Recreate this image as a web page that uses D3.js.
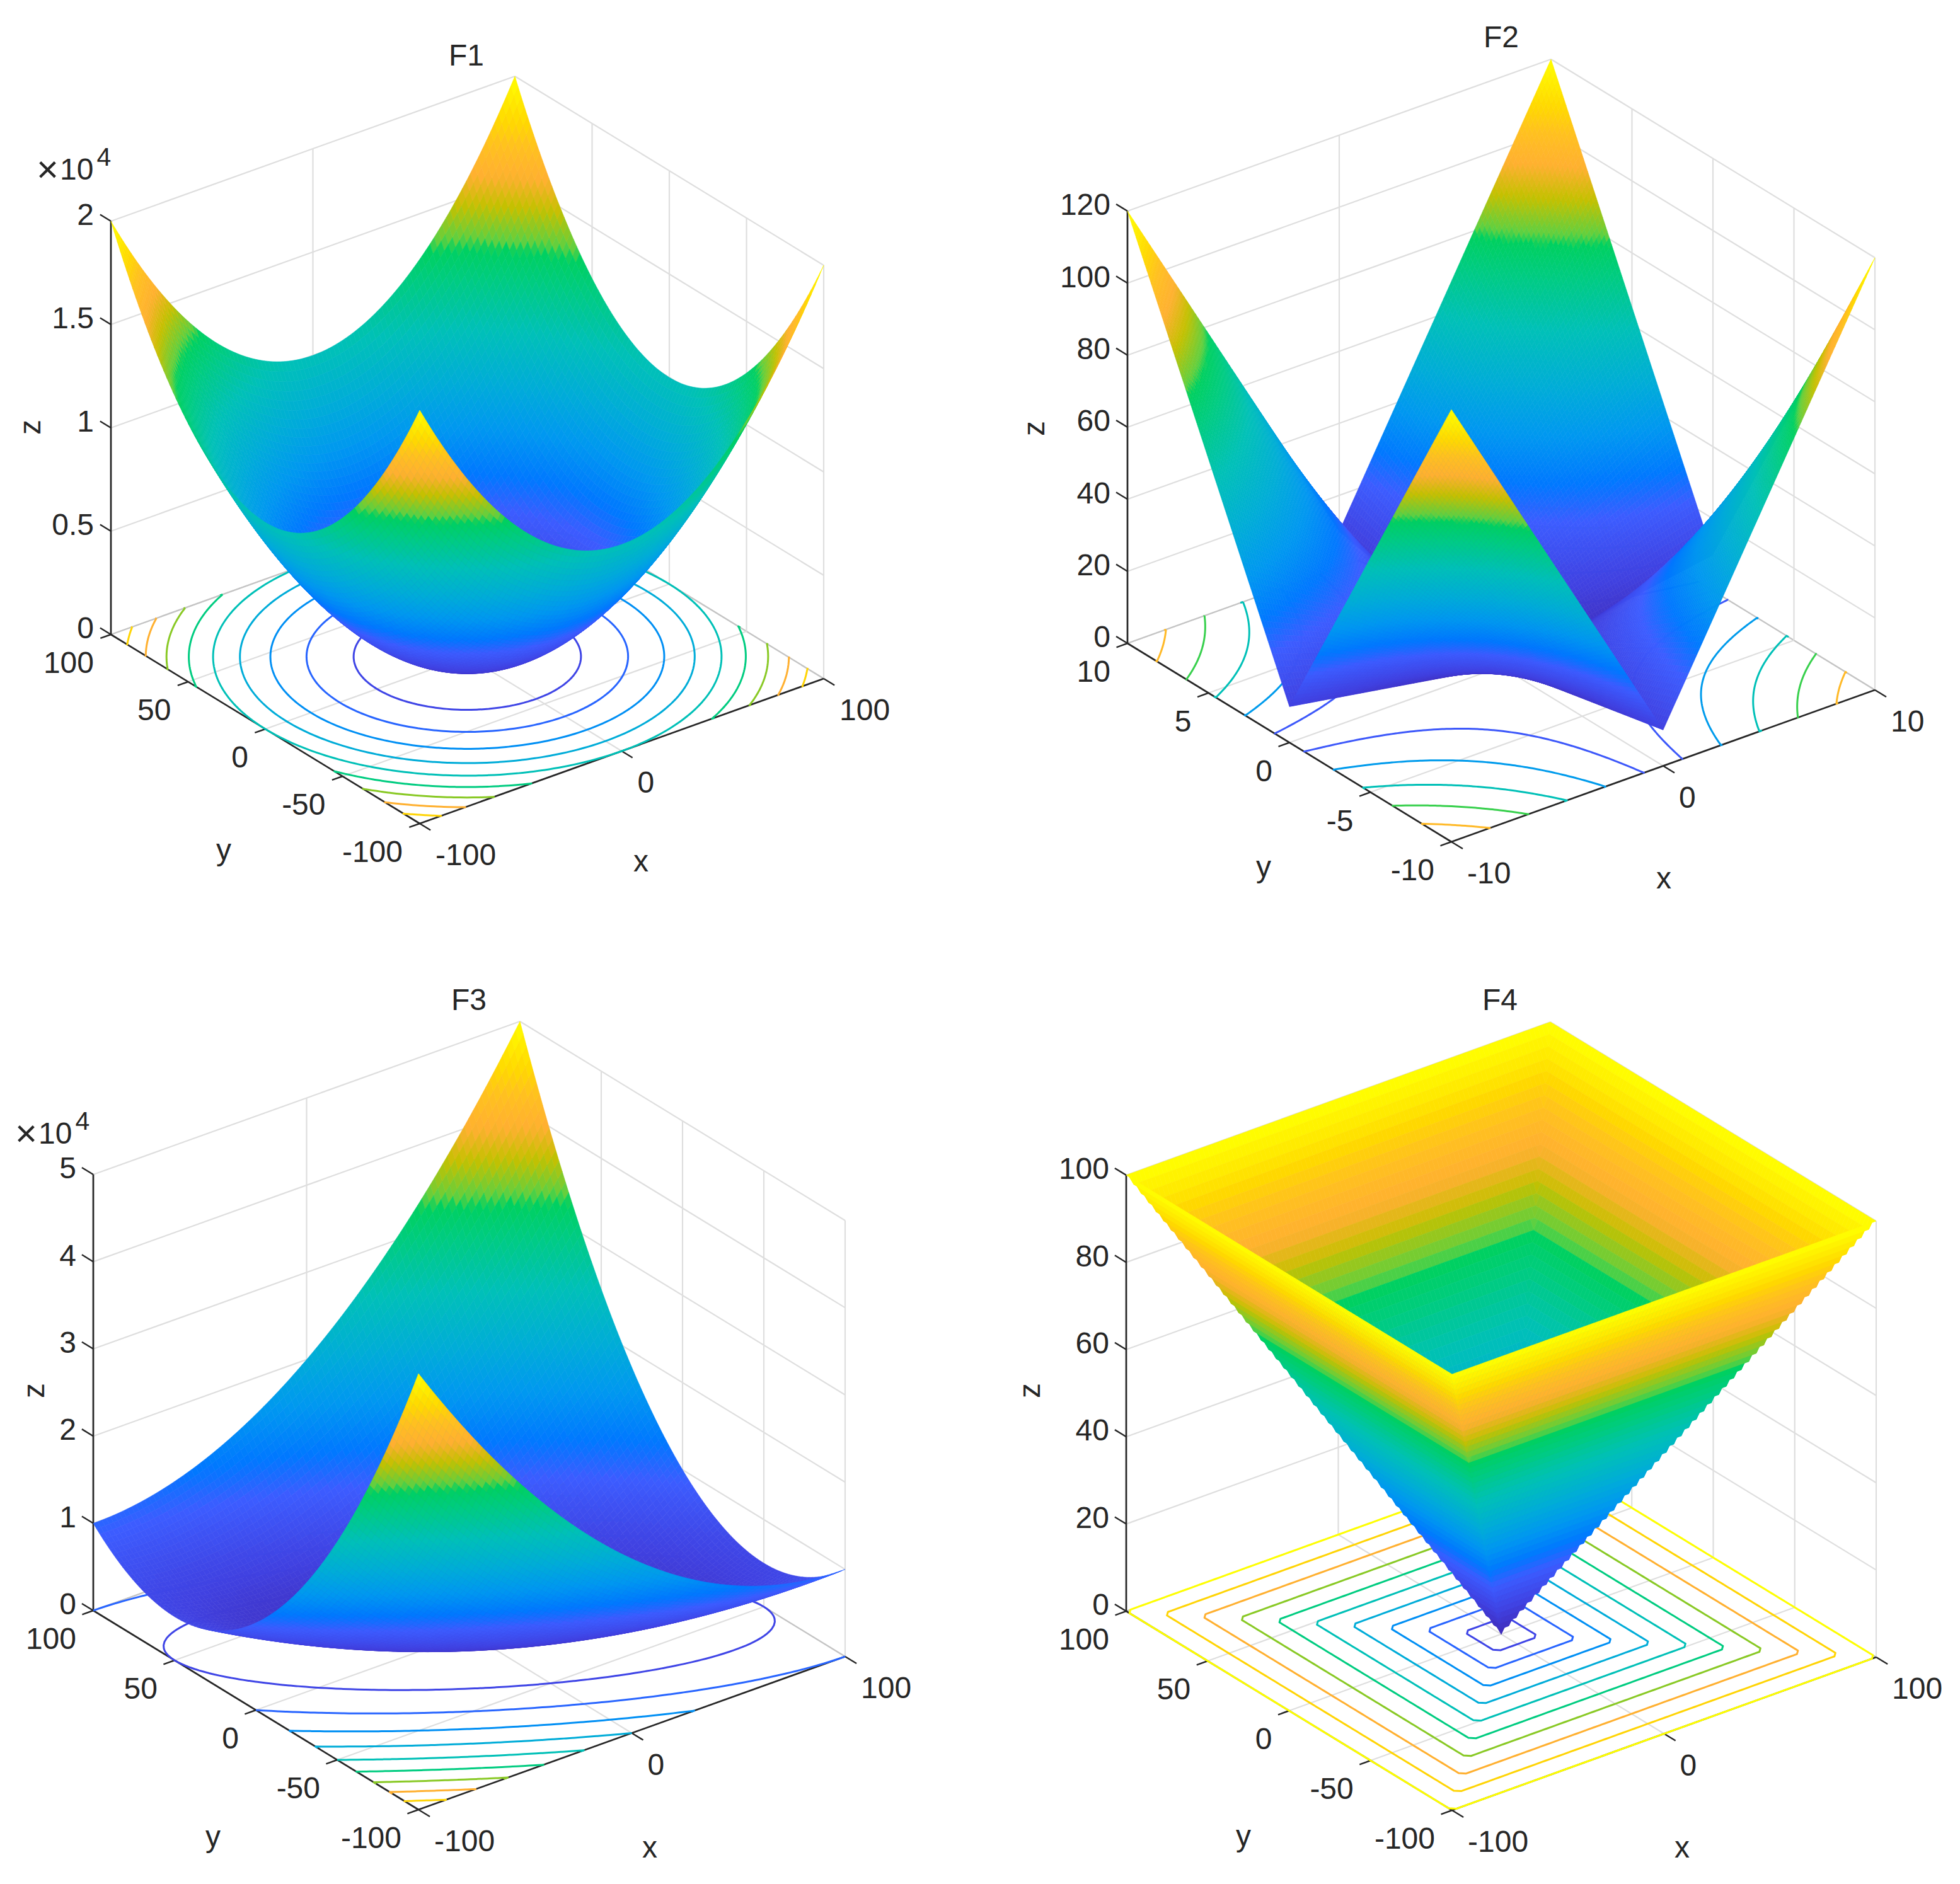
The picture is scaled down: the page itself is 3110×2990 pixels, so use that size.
<!DOCTYPE html>
<html>
<head>
<meta charset="utf-8">
<script src="https://cdnjs.cloudflare.com/ajax/libs/d3/7.8.5/d3.min.js"></script>
<style>
  body { margin: 0; background: #fff; }
  text { font-family: "Liberation Sans", Arial, sans-serif; fill: #262626; }
</style>
</head>
<body>
<div id="chart"></div>
<script>
// surface heights, rows go y low -> high, columns x low -> high
var f1Z = [
  [20000,16400,13600,11600,10400,10000,10400,11600,13600,16400,20000],
  [16400,12800,10000,8000,6800,6400,6800,8000,10000,12800,16400],
  [13600,10000,7200,5200,4000,3600,4000,5200,7200,10000,13600],
  [11600,8000,5200,3200,2000,1600,2000,3200,5200,8000,11600],
  [10400,6800,4000,2000,800,400,800,2000,4000,6800,10400],
  [10000,6400,3600,1600,400,0,400,1600,3600,6400,10000],
  [10400,6800,4000,2000,800,400,800,2000,4000,6800,10400],
  [11600,8000,5200,3200,2000,1600,2000,3200,5200,8000,11600],
  [13600,10000,7200,5200,4000,3600,4000,5200,7200,10000,13600],
  [16400,12800,10000,8000,6800,6400,6800,8000,10000,12800,16400],
  [20000,16400,13600,11600,10400,10000,10400,11600,13600,16400,20000]
];
var f2Z = [
  [120,98,76,54,32,10,32,54,76,98,120],
  [98,80,62,44,26,8,26,44,62,80,98],
  [76,62,48,34,20,6,20,34,48,62,76],
  [54,44,34,24,14,4,14,24,34,44,54],
  [32,26,20,14,8,2,8,14,20,26,32],
  [10,8,6,4,2,0,2,4,6,8,10],
  [32,26,20,14,8,2,8,14,20,26,32],
  [54,44,34,24,14,4,14,24,34,44,54],
  [76,62,48,34,20,6,20,34,48,62,76],
  [98,80,62,44,26,8,26,44,62,80,98],
  [120,98,76,54,32,10,32,54,76,98,120]
];
var f3Z = [
  [50000,42400,35600,29600,24400,20000,16400,13600,11600,10400,10000],
  [38800,32000,26000,20800,16400,12800,10000,8000,6800,6400,6800],
  [29200,23200,18000,13600,10000,7200,5200,4000,3600,4000,5200],
  [21200,16000,11600,8000,5200,3200,2000,1600,2000,3200,5200],
  [14800,10400,6800,4000,2000,800,400,800,2000,4000,6800],
  [10000,6400,3600,1600,400,0,400,1600,3600,6400,10000],
  [6800,4000,2000,800,400,800,2000,4000,6800,10400,14800],
  [5200,3200,2000,1600,2000,3200,5200,8000,11600,16000,21200],
  [5200,4000,3600,4000,5200,7200,10000,13600,18000,23200,29200],
  [6800,6400,6800,8000,10000,12800,16400,20800,26000,32000,38800],
  [10000,10400,11600,13600,16400,20000,24400,29600,35600,42400,50000]
];
var f4Z = [
  [100,100,100,100,100,100,100,100,100,100,100],
  [100,80,80,80,80,80,80,80,80,80,100],
  [100,80,60,60,60,60,60,60,60,80,100],
  [100,80,60,40,40,40,40,40,60,80,100],
  [100,80,60,40,20,20,20,40,60,80,100],
  [100,80,60,40,20,0,20,40,60,80,100],
  [100,80,60,40,20,20,20,40,60,80,100],
  [100,80,60,40,40,40,40,40,60,80,100],
  [100,80,60,60,60,60,60,60,60,80,100],
  [100,80,80,80,80,80,80,80,80,80,100],
  [100,100,100,100,100,100,100,100,100,100,100]
];

// tick values and labels
var xTicks100 = [-100, 0, 100];
var yTicks100 = [-100, -50, 0, 50, 100];
var xTicks10 = [-10, 0, 10];
var yTicks10 = [-10, -5, 0, 5, 10];
var f1ZTicks = [0, 5000, 10000, 15000, 20000];
var f1ZLabels = ['0', '0.5', '1', '1.5', '2'];
var f2ZTicks = [0, 20, 40, 60, 80, 100, 120];
var f3ZTicks = [0, 10000, 20000, 30000, 40000, 50000];
var f3ZLabels = ['0', '1', '2', '3', '4', '5'];
var f4ZTicks = [0, 20, 40, 60, 80, 100];

// contour levels on the floor
var f1Levels = [2000, 4000, 6000, 8000, 10000, 12000, 14000, 16000, 18000];
var f2Levels = [20, 40, 60, 80, 100];
var f3Levels = [5000, 10000, 15000, 20000, 25000, 30000, 35000, 40000, 45000];
var f4Levels = [10, 20, 30, 40, 50, 60, 70, 80, 90, 100];

// colormap used in the figure
var cmapStops = [0, 0.08, 0.18, 0.24, 0.32, 0.40, 0.50, 0.60, 0.655, 0.675, 0.74, 0.80, 0.86, 0.91, 1];
var cmapColors = ['#3f2cb8', '#4040e0', '#3c5cff', '#0078ff', '#0098f0', '#00acd8', '#00c0b8', '#00cc80',
  '#00d060', '#60d040', '#c4c000', '#ffb030', '#ffc020', '#ffd800', '#ffff00'];

var attrs = {
  svgWidth: 3110,
  svgHeight: 2990,
  colorLevels: 256
};

var panels = [
  { title: 'F1', z: f1Z, fill: 'smooth', mesh: 10, zMax: 20000, lim: 100, xT: xTicks100, yT: yTicks100, zT: f1ZTicks, zL: f1ZLabels, levels: f1Levels,
    left: [176, 1007], bottom: [666, 1307], right: [1307, 1077], zLen: 656,
    titlePos: [740, 87], xPos: [1017, 1369], yPos: [355, 1355], zPos: [50, 678], expPos: [58, 285] },
  { title: 'F2', z: f2Z, fill: 'bilinear', mesh: 15, zMax: 120, lim: 10, xT: xTicks10, yT: yTicks10, zT: f2ZTicks, zL: null, levels: f2Levels,
    left: [1789, 1021], bottom: [2303, 1336], right: [2975, 1095], zLen: 686,
    titlePos: [2382, 58], xPos: [2640, 1396], yPos: [2005, 1382], zPos: [1643, 680] },
  { title: 'F3', z: f3Z, fill: 'smooth', mesh: 10, zMax: 50000, lim: 100, xT: xTicks100, yT: yTicks100, zT: f3ZTicks, zL: f3ZLabels, levels: f3Levels,
    left: [148, 2556], bottom: [664, 2872], right: [1341, 2629], zLen: 692,
    titlePos: [744, 1586], xPos: [1031, 2934], yPos: [338, 2921], zPos: [56, 2207], expPos: [24, 1815] },
  { title: 'F4', z: f4Z, fill: 'facet', mesh: 10, zMax: 100, lim: 100, xT: xTicks100, yT: yTicks100, zT: f4ZTicks, zL: null, levels: f4Levels,
    left: [1787, 2557], bottom: [2304, 2873], right: [2977, 2630], zLen: 692,
    titlePos: [2380, 1586], xPos: [2669, 2934], yPos: [1973, 2920], zPos: [1636, 2207] }
];

/* ############# TABLE SHADING ############### */

function extendRow(a) {
  var n = a.length;
  return [3 * a[0] - 3 * a[1] + a[2]].concat(a, [3 * a[n - 1] - 3 * a[n - 2] + a[n - 3]]);
}

function extendGrid(t) {
  return d3.transpose(d3.transpose(t.map(extendRow)).map(extendRow));
}

function cr(p0, p1, p2, p3, t) {
  return 0.5 * (2 * p1 + (p2 - p0) * t + (2 * p0 - 5 * p1 + 4 * p2 - p3) * t * t + (3 * p1 - p0 - 3 * p2 + p3) * t * t * t);
}

function shadeValue(p, g, c, r, u, v) {
  var t = p.z;
  var a = t[r][c], b = t[r][c + 1], d = t[r + 1][c], e = t[r + 1][c + 1];
  if (p.fill === 'bilinear') {
    return a * (1 - u) * (1 - v) + b * u * (1 - v) + d * (1 - u) * v + e * u * v;
  }
  if (p.fill === 'facet') {
    if (a + e <= b + d) {
      return u >= v ? a + (b - a) * u + (e - b) * v : a + (d - a) * v + (e - d) * u;
    }
    return u + v <= 1 ? a + (b - a) * u + (d - a) * v : e + (d - e) * (1 - u) + (b - e) * (1 - v);
  }
  var vals = [r, r + 1, r + 2, r + 3].map(function (j) {
    return cr(g[j][c], g[j][c + 1], g[j][c + 2], g[j][c + 3], u);
  });
  return cr(vals[0], vals[1], vals[2], vals[3], v);
}

// finer mesh for drawing, table cells split in p.mesh parts
function buildMesh(p) {
  var g = extendGrid(p.z);
  var cells = p.z.length - 1;
  var n = cells * p.mesh + 1;
  var vals = new Array(n * n);
  for (var j = 0; j < n; j++) {
    for (var i = 0; i < n; i++) {
      var c = Math.min(cells - 1, Math.floor(i / p.mesh));
      var r = Math.min(cells - 1, Math.floor(j / p.mesh));
      var u = (i - c * p.mesh) / p.mesh;
      var v = (j - r * p.mesh) / p.mesh;
      vals[j * n + i] = +shadeValue(p, g, c, r, u, v).toFixed(6);
    }
  }
  return { n: n, vals: vals };
}

/* ##############  DRAWING ################# */

var svg = d3.select('#chart')
  .append('svg')
  .attr('width', attrs.svgWidth)
  .attr('height', attrs.svgHeight);

var cmap = d3.scaleLinear().domain(cmapStops).range(cmapColors).interpolate(d3.interpolateRgb);
var palette = d3.range(attrs.colorLevels).map(function (i) { return d3.color(cmap(i / (attrs.colorLevels - 1))).formatHex(); });

panels.forEach(function (p) {
  var chart = svg.append('g').attr('class', 'panel');

  var xS = d3.scaleLinear().domain([-p.lim, p.lim]).range([0, 1]);
  var yS = d3.scaleLinear().domain([-p.lim, p.lim]).range([0, 1]);
  var zS = d3.scaleLinear().domain([0, p.zMax]).range([0, p.zLen]);

  var ex = [p.right[0] - p.bottom[0], p.right[1] - p.bottom[1]];
  var ey = [p.left[0] - p.bottom[0], p.left[1] - p.bottom[1]];

  function project(x, y, z) {
    return [
      p.bottom[0] + xS(x) * ex[0] + yS(y) * ey[0],
      p.bottom[1] + xS(x) * ex[1] + yS(y) * ey[1] - zS(z)
    ];
  }

  function colorOf(v) {
    return palette[Math.min(attrs.colorLevels - 1, Math.floor(v / p.zMax * attrs.colorLevels))];
  }

  var line = d3.line();

  function seg(a, b, col, w) {
    chart.append('path').attr('d', line([a, b])).attr('fill', 'none').attr('stroke', col).attr('stroke-width', w);
  }

  // back walls and floor grid
  var gridCol = '#dedede';
  var L = p.lim;
  p.zT.forEach(function (z) {
    seg(project(-L, L, z), project(L, L, z), gridCol, 2.2);
    seg(project(L, L, z), project(L, -L, z), gridCol, 2.2);
  });
  p.xT.forEach(function (x) {
    seg(project(x, L, 0), project(x, L, p.zMax), gridCol, 2.2);
    if (x !== -L) seg(project(x, -L, 0), project(x, L, 0), x === L ? '#c4c4c4' : gridCol, 2.2);
  });
  p.yT.forEach(function (y) {
    seg(project(L, y, 0), project(L, y, p.zMax), gridCol, 2.2);
    if (y !== -L) seg(project(-L, y, 0), project(L, y, 0), y === L ? '#c4c4c4' : gridCol, 2.2);
  });

  // axis lines
  var axCol = '#262626';
  seg(project(-L, L, 0), project(-L, L, p.zMax), axCol, 2.7);
  seg(project(-L, L, 0), project(-L, -L, 0), axCol, 2.7);
  seg(project(-L, -L, 0), project(L, -L, 0), axCol, 2.7);

  // ticks
  var tickX = 0.026 * 2 * L, tickY = 0.035 * 2 * L;
  p.zT.forEach(function (z, i) {
    var a = project(-L, L, z);
    seg(a, [a[0] + ey[0] * 0.035, a[1] + ey[1] * 0.035], axCol, 2.4);
    chart.append('text').attr('x', a[0] - 27).attr('y', a[1] - 11).attr('dy', '0.36em')
      .attr('text-anchor', 'end').attr('font-size', 48)
      .text(p.zL ? p.zL[i] : z);
  });
  p.yT.forEach(function (y) {
    var a = project(-L, y, 0);
    var b = project(-L - tickX, y, 0);
    seg(a, b, axCol, 2.4);
    chart.append('text').attr('x', a[0] - 27).attr('y', a[1] + 44).attr('dy', '0.36em')
      .attr('text-anchor', 'end').attr('font-size', 48).text(y);
  });
  p.xT.forEach(function (x) {
    var a = project(x, -L, 0);
    var b = project(x, -L - tickY, 0);
    seg(a, b, axCol, 2.4);
    chart.append('text').attr('x', a[0] + 25).attr('y', a[1] + 49).attr('dy', '0.36em')
      .attr('text-anchor', 'start').attr('font-size', 48).text(x);
  });

  // titles and axis names
  chart.append('text').attr('x', p.titlePos[0]).attr('y', p.titlePos[1]).attr('dy', '0.36em')
    .attr('text-anchor', 'middle').attr('font-size', 48).text(p.title);
  chart.append('text').attr('x', p.xPos[0]).attr('y', p.xPos[1]).attr('dy', '0.3em')
    .attr('text-anchor', 'middle').attr('font-size', 48).text('x');
  chart.append('text').attr('x', p.yPos[0]).attr('y', p.yPos[1]).attr('dy', '0.2em')
    .attr('text-anchor', 'middle').attr('font-size', 48).text('y');
  chart.append('text').attr('transform', 'translate(' + p.zPos[0] + ',' + p.zPos[1] + ') rotate(-90)')
    .attr('dy', '0.3em').attr('text-anchor', 'middle').attr('font-size', 48).text('z');
  if (p.expPos) {
    var exp = chart.append('text').attr('x', p.expPos[0]).attr('y', p.expPos[1]).attr('font-size', 48);
    exp.append('tspan').attr('font-size', 60).attr('dy', 4).text('\u00d7');
    exp.append('tspan').attr('dx', 2).attr('dy', -4).text('10');
    exp.append('tspan').attr('dx', 5).attr('dy', -22).attr('font-size', 41).text('4');
  }

  var mesh = buildMesh(p);
  var n = mesh.n, vals = mesh.vals;
  var gx = d3.scaleLinear().domain([0, n - 1]).range([-L, L]);

  // contours on the floor
  var contours = d3.contours().size([n, n]).thresholds(p.levels).smooth(true)(vals);
  contours.forEach(function (c) {
    function isEdge(q) { return q[0] <= 0 || q[0] >= n || q[1] <= 0 || q[1] >= n; }
    function toFloor(q) {
      var px = Math.max(0, Math.min(n - 1, q[0] - 0.5));
      var py = Math.max(0, Math.min(n - 1, q[1] - 0.5));
      return project(gx(px), gx(py), 0);
    }
    var d = '';
    c.coordinates.forEach(function (poly) {
      poly.forEach(function (ring) {
        var run = [];
        for (var k = 0; k < ring.length - 1; k++) {
          if (isEdge(ring[k]) && isEdge(ring[k + 1])) {
            if (run.length) { d += line(run); run = []; }
            continue;
          }
          if (!run.length) run.push(toFloor(ring[k]));
          run.push(toFloor(ring[k + 1]));
        }
        if (run.length) d += line(run);
      });
    });
    chart.append('path').attr('d', d).attr('fill', 'none').attr('stroke', colorOf(c.value))
      .attr('stroke-width', 3).attr('stroke-linejoin', 'round');
  });

  // surface, painted from the back corner to the front corner
  var cells = [];
  for (var j = n - 2; j >= 0; j--) {
    for (var i = n - 2; i >= 0; i--) {
      var m = (vals[j * n + i] + vals[j * n + i + 1] + vals[(j + 1) * n + i] + vals[(j + 1) * n + i + 1]) / 4;
      cells.push({ i: i, j: j, m: m });
    }
  }

  chart.append('g').attr('class', 'surface')
    .selectAll('path')
    .data(cells)
    .join('path')
    .attr('d', function (d) {
      var i = d.i, j = d.j;
      return line([
        project(gx(i), gx(j), vals[j * n + i]),
        project(gx(i + 1), gx(j), vals[j * n + i + 1]),
        project(gx(i + 1), gx(j + 1), vals[(j + 1) * n + i + 1]),
        project(gx(i), gx(j + 1), vals[(j + 1) * n + i])
      ]) + 'Z';
    })
    .attr('fill', function (d) { return colorOf(d.m); })
    .attr('stroke', function (d) { return colorOf(d.m); })
    .attr('stroke-width', 0.6);
});
</script>
</body>
</html>
